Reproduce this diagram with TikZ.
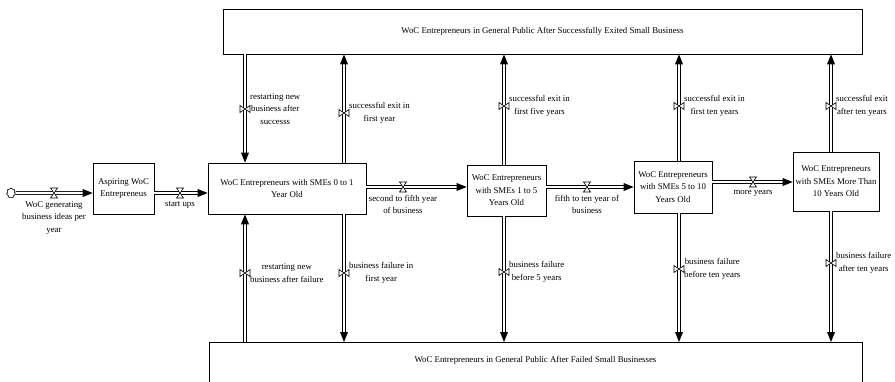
\documentclass[tikz,border=0pt]{standalone}
\usepackage{fontspec}
\setmainfont{Liberation Serif}
\usetikzlibrary{arrows.meta}
\usetikzlibrary{shapes.symbols}
\usetikzlibrary{decorations.markings}

\begin{document}
\begin{tikzpicture}[x=1pt, y=-1pt, font=\fontsize{8.8}{12.5}\selectfont,
  stock/.style={draw, line width=.7pt, align=center, inner sep=2pt},
  headtip/.style={postaction={decorate, decoration={markings,
    mark=at position 1 with {\fill (0pt,0pt) -- (-10pt,4pt) -- (-10pt,-4pt) -- cycle;}}}},
  pipe/.style={double, double distance=2.2pt, line width=.7pt, shorten >=6pt, headtip},
  lbl/.style={align=center, inner sep=1pt},
  valve/.pic={\draw[fill=white, line width=.6pt] (-3.5,-5) -- (3.5,-5) -- (-3.5,5) -- (3.5,5) -- cycle;}]

\useasboundingbox (0,0) rectangle (895,381);
\clip (0,0) rectangle (895,381);

% stocks
\node[stock, minimum width=61pt, minimum height=51pt] (asp) at (123.5,188.5) {Aspiring WoC\\Entrepreneus};
\node[stock, minimum width=158pt, minimum height=51pt] (s01) at (287,188.5) {WoC Entrepreneurs with SMEs 0 to 1\\Year Old};
\node[stock, minimum width=79pt, minimum height=51pt] (s15) at (506.5,190.5) {WoC Entrepreneurs\\with SMEs 1 to 5\\Years Old};
\node[stock, minimum width=78pt, minimum height=52pt] (s510) at (673,187) {WoC Entrepreneurs\\with SMEs 5 to 10\\Years Old};
\node[stock, minimum width=86pt, minimum height=59pt] (s10p) at (836,181.5) {WoC Entrepreneurs\\with SMEs More Than\\10 Years Old};
\node[stock, minimum width=639pt, minimum height=45pt] (pubok) at (542.5,31.5) {WoC Entrepreneurs in General Public After Successfully Exited Small Business};
\node[stock, minimum width=653pt, minimum height=60pt, anchor=north] (pubfail) at (535.5,342) {};
\node[lbl] (pubfailtxt) at ([yshift=-18pt]pubfail.north) {WoC Entrepreneurs in General Public After Failed Small Businesses};
\node[cloud, draw, cloud puffs=7, line width=.6pt, minimum width=9pt, minimum height=10pt, inner sep=0pt] (src) at (11,193) {};

% valves
\coordinate (videas) at (54,193);
\coordinate (vstart) at (180,193);
\coordinate (vsecond) at (403,187);
\coordinate (vfifth) at (587,187);
\coordinate (vmore) at (753,182);
\coordinate (vrs) at (245,109);
\coordinate (vex1) at (344,113);
\coordinate (vrf) at (245,273);
\coordinate (vf1) at (344,273);
\coordinate (vex5) at (504,106);
\coordinate (vf5) at (504,272);
\coordinate (vex10) at (679,106);
\coordinate (vf10) at (679,269);
\coordinate (vexm) at (831,106);
\coordinate (vfm) at (831,263);

% flows along the chain
\draw[pipe] (src.east) -- (asp.west |- videas);
\draw[pipe] (asp.east |- vstart) -- (s01.west |- vstart);
\draw[pipe] (s01.east |- vsecond) -- (s15.west |- vsecond);
\draw[pipe] (s15.east |- vfifth) -- (s510.west |- vfifth);
\draw[pipe] (s510.east |- vmore) -- (s10p.west |- vmore);

% flows up and down
\draw[pipe] (pubok.south -| vrs) -- (s01.north -| vrs);
\draw[pipe] (s01.north -| vex1) -- (pubok.south -| vex1);
\draw[pipe] (pubfail.north -| vrf) -- (s01.south -| vrf);
\draw[pipe] (s01.south -| vf1) -- (pubfail.north -| vf1);
\draw[pipe] (s15.north -| vex5) -- (pubok.south -| vex5);
\draw[pipe] (s15.south -| vf5) -- (pubfail.north -| vf5);
\draw[pipe] (s510.north -| vex10) -- (pubok.south -| vex10);
\draw[pipe] (s510.south -| vf10) -- (pubfail.north -| vf10);
\draw[pipe] (s10p.north -| vexm) -- (pubok.south -| vexm);
\draw[pipe] (s10p.south -| vfm) -- (pubfail.north -| vfm);

\pic at (videas) {valve};
\pic at (vstart) {valve};
\pic at (vsecond) {valve};
\pic at (vfifth) {valve};
\pic at (vmore) {valve};
\pic[rotate=90] at (vrs) {valve};
\pic[rotate=90] at (vex1) {valve};
\pic[rotate=90] at (vrf) {valve};
\pic[rotate=90] at (vf1) {valve};
\pic[rotate=90] at (vex5) {valve};
\pic[rotate=90] at (vf5) {valve};
\pic[rotate=90] at (vex10) {valve};
\pic[rotate=90] at (vf10) {valve};
\pic[rotate=90] at (vexm) {valve};
\pic[rotate=90] at (vfm) {valve};

% flow names
\node[lbl, anchor=north] (lideas) at ([yshift=-7pt]videas) {WoC generating\\business ideas per\\year};
\node[lbl, anchor=north] (lstart) at ([yshift=-7pt]vstart) {start ups};
\node[lbl, anchor=north] (lsecond) at ([yshift=-7pt]vsecond) {second to fifth year\\of business};
\node[lbl, anchor=north] (lfifth) at ([yshift=-7pt]vfifth) {fifth to ten year of\\business};
\node[lbl, anchor=north] (lmore) at ([yshift=-7pt]vmore) {more years};
\node[lbl, anchor=west] (lrs) at ([xshift=4pt]vrs) {restarting new\\business after\\successs};
\node[lbl, anchor=west] (lex1) at ([xshift=4pt]vex1) {successful exit in\\first year};
\node[lbl, anchor=west] (lrf) at ([xshift=4pt]vrf) {restarting new\\business after failure};
\node[lbl, anchor=west] (lf1) at ([xshift=4pt]vf1) {business failure in\\first year};
\node[lbl, anchor=west] (lex5) at ([xshift=4pt]vex5) {successful exit in\\first five years};
\node[lbl, anchor=west] (lf5) at ([xshift=4pt]vf5) {business failure\\before 5 years};
\node[lbl, anchor=west] (lex10) at ([xshift=4pt]vex10) {successful exit in\\first ten years};
\node[lbl, anchor=west] (lf10) at ([xshift=4pt]vf10) {business failure\\before ten years};
\node[lbl, anchor=west] (lexm) at ([xshift=4pt]vexm) {successful exit\\after ten years};
\node[lbl, anchor=west] (lfm) at ([xshift=4pt]vfm) {business failure\\after ten years};

\end{tikzpicture}
\end{document}
